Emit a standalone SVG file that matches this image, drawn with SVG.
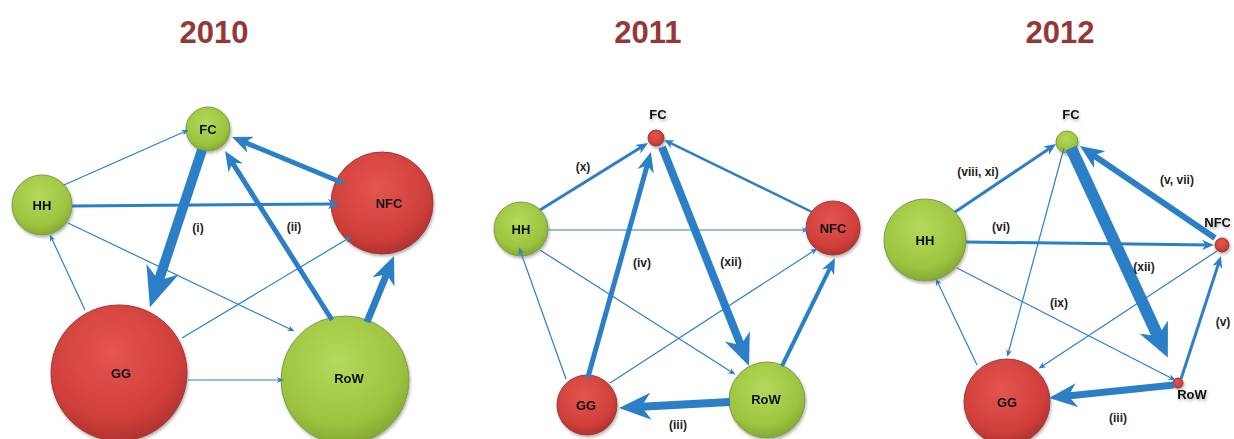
<svg xmlns="http://www.w3.org/2000/svg" width="1234" height="439" viewBox="0 0 1234 439">
<style>
.title{font-family:"Liberation Sans",Arial,sans-serif;font-weight:bold;font-size:31px;fill:#953735;text-anchor:middle}
.nl{font-family:"Liberation Sans",Arial,sans-serif;font-weight:bold;font-size:13px;fill:#111;text-anchor:middle}
.el{font-family:"Liberation Sans",Arial,sans-serif;font-weight:bold;font-size:12px;fill:#222;text-anchor:middle}
.g{fill:url(#gg);stroke:#7f9a48;stroke-width:1}
.r{fill:url(#rg);stroke:#9a3a36;stroke-width:1}
.e{fill:none;stroke:#2b7fc7;stroke-linecap:butt}
.t{stroke-width:1.2;marker-end:url(#as)}
.k{marker-end:url(#ah)}
.k2{marker-end:url(#ah2)}
</style>
<defs>
<radialGradient id="gg" cx="0.45" cy="0.35" r="0.7">
<stop offset="0" stop-color="#b5d95c"/>
<stop offset="0.7" stop-color="#9cc43e"/>
<stop offset="1" stop-color="#7ea131"/>
</radialGradient>
<radialGradient id="rg" cx="0.45" cy="0.35" r="0.7">
<stop offset="0" stop-color="#e5554f"/>
<stop offset="0.7" stop-color="#d03f3b"/>
<stop offset="1" stop-color="#a92f2c"/>
</radialGradient>
<filter id="sh" x="-20%" y="-20%" width="140%" height="140%">
<feDropShadow dx="1" dy="2" stdDeviation="1.5" flood-color="#000" flood-opacity="0.3"/>
</filter>
<marker id="as" viewBox="0 0 10 10" refX="6" refY="5" markerWidth="6" markerHeight="5" markerUnits="strokeWidth" orient="auto" preserveAspectRatio="none">
<path d="M0,0 L10,5 L0,10 L3,5 z" fill="#2b7fc7"/>
</marker>
<marker id="ah" viewBox="0 0 10 10" refX="6" refY="5" markerWidth="4" markerHeight="3.4" markerUnits="strokeWidth" orient="auto" preserveAspectRatio="none">
<path d="M0,0 L10,5 L0,10 L3,5 z" fill="#2b7fc7"/>
</marker>
<marker id="ah2" viewBox="0 0 10 10" refX="5.5" refY="5" markerWidth="2.8" markerHeight="2.6" markerUnits="strokeWidth" orient="auto" preserveAspectRatio="none">
<path d="M0,0 L10,5 L0,10 L3,5 z" fill="#2b7fc7"/>
</marker>
</defs>
<rect width="1234" height="439" fill="#fff"/>
<text class="title" x="214" y="43">2010</text>
<text class="title" x="648" y="43">2011</text>
<text class="title" x="1060" y="43">2012</text>

<!-- Panel 2010 -->
<g id="p2010-nodes" filter="url(#sh)">
<g id="n2010-FC"><circle class="g" cx="208" cy="129" r="22"/><text class="nl" x="208" y="134">FC</text></g>
<g id="n2010-HH"><circle class="g" cx="42" cy="205" r="30"/><text class="nl" x="42" y="210">HH</text></g>
<g id="n2010-NFC"><circle class="r" cx="382" cy="203" r="51"/><text class="nl" x="389" y="208">NFC</text></g>
<g id="n2010-GG"><circle class="r" cx="119" cy="373" r="68"/><text class="nl" x="121" y="378">GG</text></g>
<g id="n2010-RoW"><circle class="g" cx="345" cy="380" r="64"/><text class="nl" x="349" y="383">RoW</text></g>
</g>
<g id="p2010-edges">
<path class="e t" d="M64,185 L186,131"/>
<path class="e k" stroke-width="3" d="M72,206 L335,204"/>
<path class="e t" d="M68,223 L292,330"/>
<path class="e t" d="M85,310 L51,237"/>
<path class="e t" d="M182,338 L349,238"/>
<path class="e t" d="M188,380 L281,380"/>
<path class="e k" stroke-width="10" d="M202,150 L155,292"/>
<path class="e k" stroke-width="5" d="M343,183 L239.4,140.1"/>
<path class="e k" stroke-width="5" d="M332,320 L229.3,157.8"/>
<path class="e k" stroke-width="7" d="M367,322 L389.8,266.4"/>
<text class="el" x="198" y="232">(i)</text>
<text class="el" x="294" y="231">(ii)</text>
</g>

<!-- Panel 2011 -->
<g id="p2011-nodes" filter="url(#sh)">
<g id="n2011-FC"><circle class="r" cx="656" cy="138" r="8"/><text class="nl" x="658" y="119">FC</text></g>
<g id="n2011-HH"><circle class="g" cx="521" cy="229" r="27"/><text class="nl" x="521" y="234">HH</text></g>
<g id="n2011-NFC"><circle class="r" cx="833" cy="228" r="27"/><text class="nl" x="833" y="233">NFC</text></g>
<g id="n2011-GG"><circle class="r" cx="587" cy="405" r="30"/><text class="nl" x="586" y="410">GG</text></g>
<g id="n2011-RoW"><circle class="g" cx="767" cy="400" r="38"/><text class="nl" x="766" y="404">RoW</text></g>
</g>
<g id="p2011-edges">
<path class="e k" stroke-width="3" d="M540,210 L643.9,145.5"/>
<path class="e t" d="M548,230 L806,230"/>
<path class="e t" d="M540,250 L733,373"/>
<path class="e t" d="M566,379 L520,250"/>
<path class="e k" stroke-width="5" d="M588,377 L648.8,159.7"/>
<path class="e t" d="M610,383 L815,250"/>
<path class="e k" stroke-width="8" d="M662,147 L744.3,354.1"/>
<path class="e k" stroke-width="2.5" d="M812,212 L667.6,141.7"/>
<path class="e k" stroke-width="4" d="M782,366 L832.2,263.7"/>
<path class="e k" stroke-width="8" d="M730,402 L631.8,407.3"/>
<text class="el" x="583" y="171">(x)</text>
<text class="el" x="642" y="267">(iv)</text>
<text class="el" x="731" y="266">(xii)</text>
<text class="el" x="678" y="429">(iii)</text>
</g>

<!-- Panel 2012 -->
<g id="p2012-nodes" filter="url(#sh)">
<g id="n2012-FC"><circle class="g" cx="1067" cy="142" r="11"/><text class="nl" x="1071" y="119">FC</text></g>
<g id="n2012-HH"><circle class="g" cx="925" cy="240" r="41"/><text class="nl" x="925" y="245">HH</text></g>
<g id="n2012-NFC"><circle class="r" cx="1222" cy="245" r="7"/><text class="nl" x="1231" y="227" style="text-anchor:end">NFC</text></g>
<g id="n2012-GG"><circle class="r" cx="1007" cy="402" r="43"/><text class="nl" x="1007" y="407">GG</text></g>
<g id="n2012-RoW"><circle class="r" cx="1178" cy="383" r="5"/><text class="nl" x="1192" y="399">RoW</text></g>
</g>
<g id="p2012-edges">
<path class="e k" stroke-width="3" d="M955,212 L1052,146.7"/>
<path class="e k" stroke-width="3" d="M966,242 L1209.2,245"/>
<path class="e t" d="M957,268 L1173,379"/>
<path class="e t" d="M977,365 L937,281"/>
<path class="e t" d="M1064,148 L1008,354"/>
<path class="e t" d="M1217,251 L1041,367"/>
<path class="e k2" stroke-width="12" d="M1071,148 L1161.5,343.8"/>
<path class="e k" stroke-width="6" d="M1215,238 L1087.9,151.4"/>
<path class="e k" stroke-width="3" d="M1181,379 L1219.5,260.6"/>
<path class="e k" stroke-width="7" d="M1174,385 L1060.1,396.8"/>
<text class="el" x="978" y="176">(viii, xi)</text>
<text class="el" x="1177" y="184">(v, vii)</text>
<text class="el" x="1001" y="231">(vi)</text>
<text class="el" x="1144" y="271">(xii)</text>
<text class="el" x="1059" y="307">(ix)</text>
<text class="el" x="1223" y="326">(v)</text>
<text class="el" x="1118" y="422">(iii)</text>
</g>
</svg>
